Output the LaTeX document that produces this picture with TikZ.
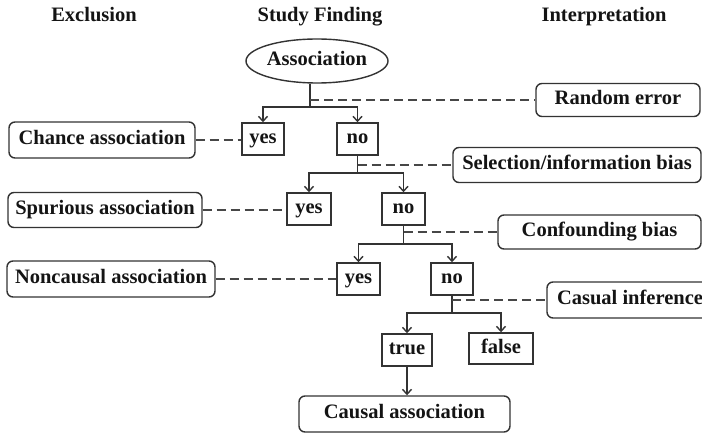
\documentclass[tikz,border=0pt]{standalone}
\usepackage{fontspec}
\setmainfont{Liberation Serif}
\usetikzlibrary{arrows.meta,shapes.geometric}
\begin{document}
\begin{tikzpicture}[x=1pt,y=-1pt,
  every node/.style={font=\bfseries\fontsize{20.5}{24}\selectfont, text=black!92, inner sep=0pt, text height=13pt, text depth=4pt},
  rbox/.style={draw=black!80, line width=1.4pt, rounded corners=6pt},
  sbox/.style={draw=black!80, line width=1.4pt},
  conn/.style={draw=black!80, line width=1.6pt},
  arr/.style={conn, -{Straight Barb[length=5pt,width=9pt,line width=1.4pt]}},
  dline/.style={draw=black!72, line width=1.7pt, dash pattern=on 9pt off 5pt},
]
\useasboundingbox (0,0) rectangle (702,433);
\fill[white] (0,0) rectangle (702,433);

% headers
\node (h1) at (94,17) {Exclusion};
\node (h2) at (320,17) {Study Finding};
\node (h3) at (604,17) {Interpretation};

% nodes
\node[ellipse, draw=black!80, line width=1.4pt, minimum width=142pt, minimum height=44pt] (A) at (317,61) {Association};
\node[rbox, minimum width=164pt, minimum height=33pt] (re) at (618,100) {Random error};
\node[sbox, minimum width=42pt, minimum height=32pt] (y1) at (263,139) {yes};
\node[sbox, minimum width=41pt, minimum height=32pt] (n1) at (357.5,139) {no};
\node[rbox, minimum width=186pt, minimum height=36pt] (ca) at (102,140) {Chance association};
\node[rbox, minimum width=248pt, minimum height=35pt] (sb) at (577,165) {Selection/information bias};
\node[sbox, minimum width=44pt, minimum height=32pt] (y2) at (309,209) {yes};
\node[sbox, minimum width=43pt, minimum height=32pt] (n2) at (403.5,209) {no};
\node[rbox, minimum width=194pt, minimum height=35pt] (sa) at (105,210) {Spurious association};
\node[rbox, minimum width=203pt, minimum height=34pt] (cb) at (599.5,232) {Confounding bias};
\node[sbox, minimum width=43pt, minimum height=32pt] (y3) at (358.5,279) {yes};
\node[sbox, minimum width=42pt, minimum height=32pt] (n3) at (452,279) {no};
\node[rbox, minimum width=208pt, minimum height=36pt] (na) at (111,279) {Noncausal association};
\node[rbox, minimum width=166pt, minimum height=36pt] (ci) at (630,300) {Casual inference};
\node[sbox, minimum width=50pt, minimum height=32pt] (tr) at (407,350) {true};
\node[sbox, minimum width=64pt, minimum height=31pt] (fa) at (501,348.5) {false};
\node[rbox, minimum width=211pt, minimum height=36pt] (cau) at (404.5,414) {Causal association};

% junctions
\coordinate (j1) at (310,107);
\coordinate (j2) at (357.5,173);
\coordinate (j3) at (403.5,244);
\coordinate (j4) at (452,313);

% tree connectors
\draw[conn] (A.south -| j1) -- (j1);
\draw[arr] (j1) -| (y1.north);
\draw[arr] (j1) -| (n1.north);
\draw[conn] (n1.south) -- (j2);
\draw[arr] (j2) -| (y2.north);
\draw[arr] (j2) -| (n2.north);
\draw[conn] (n2.south) -- (j3);
\draw[arr] (j3) -| (y3.north);
\draw[arr] (j3) -| (n3.north);
\draw[conn] (n3.south) -- (j4);
\draw[arr] (j4) -| (tr.north);
\draw[arr] (j4) -| (fa.north);
\draw[arr] (tr.south) -- (tr.south |- cau.north);

% interpretation dashed lines
\draw[dline] (j1 |- re.west) -- (re.west);
\draw[dline] (n1.south |- sb.west) -- (sb.west);
\draw[dline] (n2.south |- cb.west) -- (cb.west);
\draw[dline] (n3.south |- ci.west) -- (ci.west);

% exclusion dashed lines
\draw[dline] (ca.east) -- (ca.east -| y1.west);
\draw[dline] (sa.east) -- (sa.east -| y2.west);
\draw[dline] (na.east) -- (na.east -| y3.west);
\end{tikzpicture}
\end{document}
